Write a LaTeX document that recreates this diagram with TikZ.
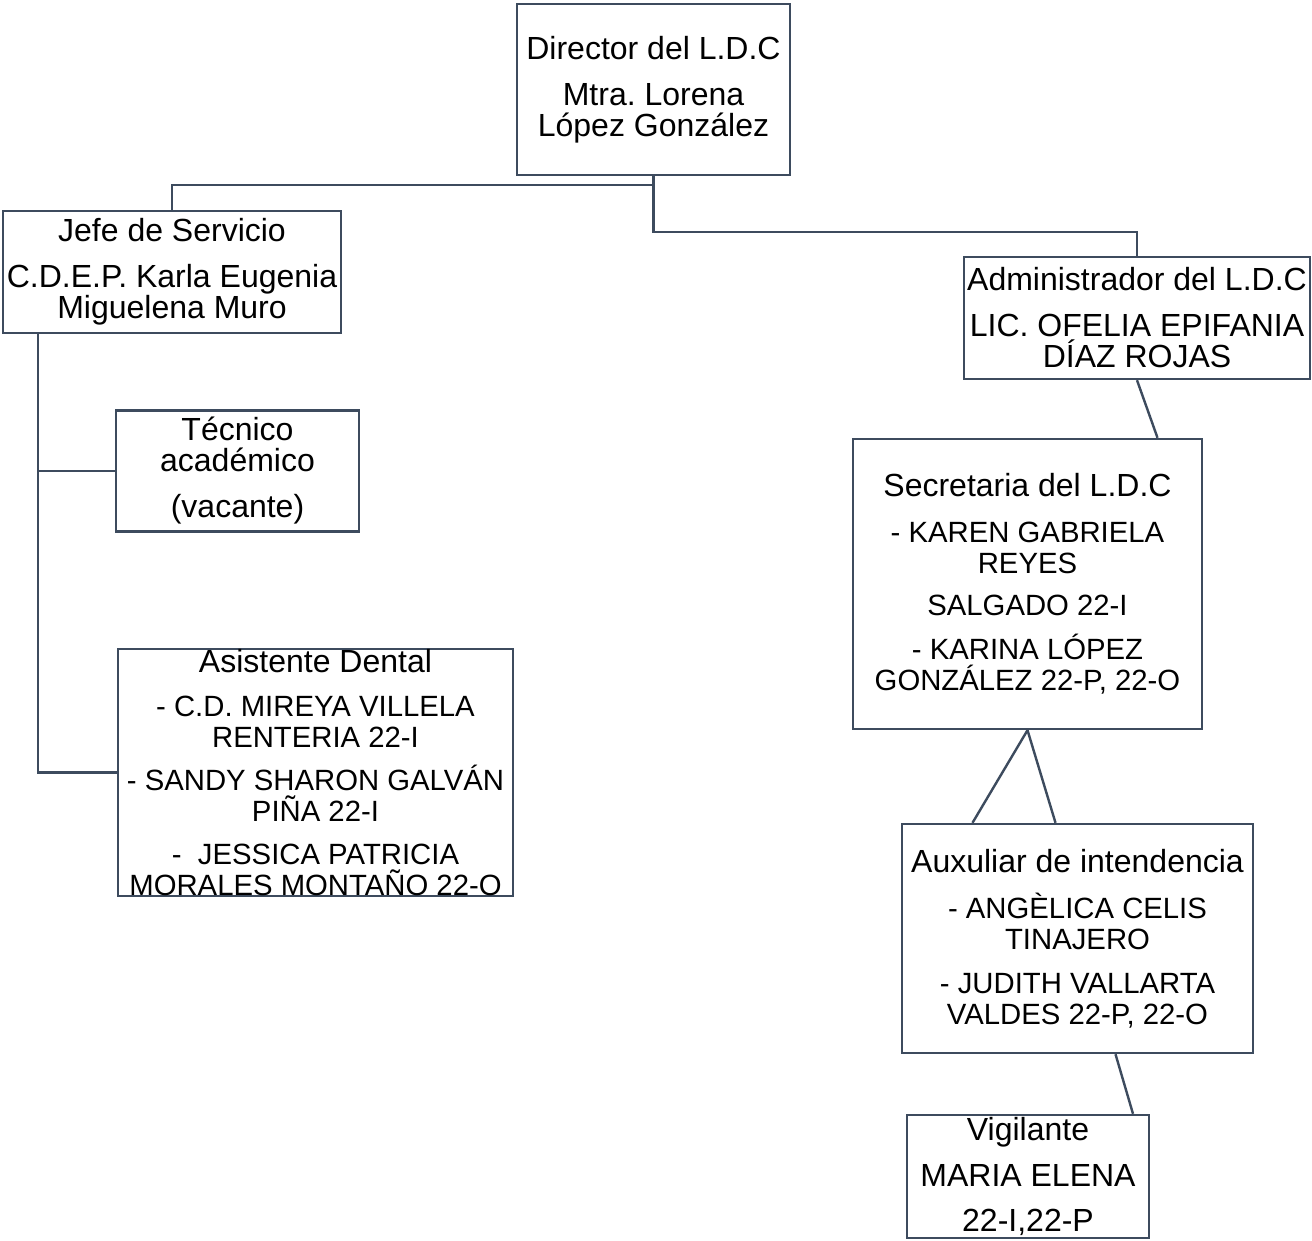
\documentclass[tikz,border=0pt]{standalone}
\usepackage{fontspec}
\setmainfont{Liberation Sans}
\usetikzlibrary{positioning}
\definecolor{linec}{HTML}{3D4B5E}
\newcommand\nombres{\fontsize{29.3}{30}\selectfont}

\begin{document}
\frenchspacing
\begin{tikzpicture}[x=1pt, y=-1pt,
						puesto/.style = {draw=linec, line width=2.4pt, rectangle, inner sep=0pt, align=center,
							font=\fontsize{32}{31}\selectfont},
						liga/.style = {draw=linec, line width=2.4pt}
					]
\fill[white] (0,0) rectangle (1312,1240);
\useasboundingbox (0,0) rectangle (1312,1240);

\node[puesto, minimum width=273pt, minimum height=171pt] (dir) at (653.5,89.5)
	{Director del L.D.C\\[15pt]Mtra. Lorena\\López González};
\node[puesto, minimum width=338pt, minimum height=122pt] (jefe) at (172,272)
	{Jefe de Servicio\\[15pt]C.D.E.P. Karla Eugenia\\Miguelena Muro};
\node[puesto, minimum width=243pt, minimum height=121pt] (tec) at (237.5,471)
	{Técnico\\académico\\[15pt](vacante)};
\node[puesto, minimum width=395pt, minimum height=237pt] (asis) at (315.5,772.5)
	{Asistente Dental\\[13pt]\nombres - C.D. MIREYA VILLELA\\\nombres RENTERIA 22-I\\[12pt]\nombres - SANDY SHARON GALVÁN\\\nombres PIÑA 22-I\\[12pt]\nombres - \ JESSICA PATRICIA\\\nombres MORALES MONTAÑO 22-O};
\node[puesto, minimum width=346pt, minimum height=122pt] (adm) at (1137,318)
	{Administrador del L.D.C\\[15pt]LIC. OFELIA EPIFANIA\\DÍAZ ROJAS};
\node[puesto, minimum width=349pt, minimum height=290pt] (sec) at (1027.5,584)
	{Secretaria del L.D.C\\[15pt]\nombres - KAREN GABRIELA\\\nombres REYES\\[11pt]\nombres SALGADO 22-I\\[13pt]\nombres - KARINA LÓPEZ\\\nombres GONZÁLEZ 22-P, 22-O};
\node[puesto, minimum width=351pt, minimum height=229pt] (aux) at (1077.5,938.5)
	{Auxuliar de intendencia\\[15pt]\nombres - ANGÈLICA CELIS\\\nombres TINAJERO\\[13pt]\nombres - JUDITH VALLARTA\\\nombres VALDES 22-P, 22-O};
\node[puesto, minimum width=242pt, minimum height=123pt] (vig) at (1028,1176.5)
	{Vigilante\\[15pt]MARIA ELENA\\[14pt]22-I,22-P};

\fill[white] ([yshift=-1.3pt]asis.south west) rectangle ++(395,30);

\coordinate (split) at (653.5,185);
\coordinate (bend) at (653.5,232);
\coordinate (trunk) at (38,772.5);

\draw[liga] (dir.south) -- (split) -| (jefe.north);
\draw[liga] (split) -- (bend) -| (adm.north);
\draw[liga] (jefe.south -| trunk) -- (trunk) -- (asis.west);
\draw[liga] (trunk |- tec.west) -- (tec.west);
\draw[liga] (adm.south) -- ([xshift=130pt]sec.north);
\draw[liga] (sec.south) -- ([xshift=-105pt]aux.north);
\draw[liga] (sec.south) -- ([xshift=-22pt]aux.north);
\draw[liga] ([xshift=38pt]aux.south) -- ([xshift=105pt]vig.north);
\end{tikzpicture}
\end{document}
